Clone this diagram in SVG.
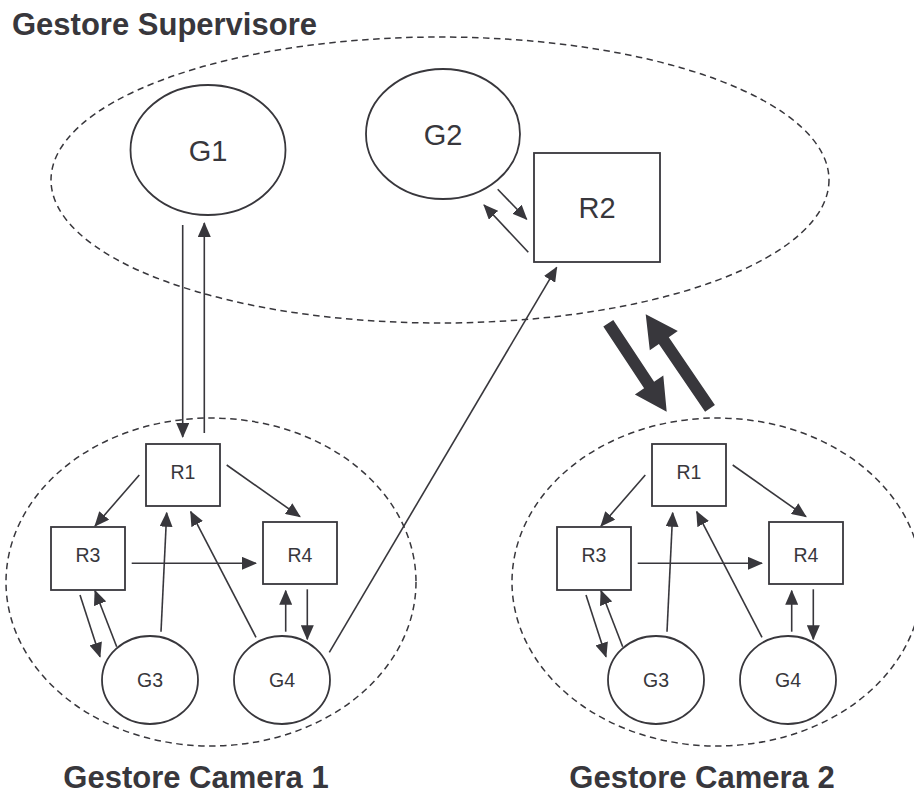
<svg xmlns="http://www.w3.org/2000/svg" width="914" height="794" viewBox="0 0 914 794">
  <style>
    .bg { fill: #ffffff; }
    .node { fill: #ffffff; stroke: #38373c; stroke-width: 1.8; }
    .zone { fill: none; stroke: #38373c; stroke-width: 1.5; stroke-dasharray: 6.5 4.5; }
    .lbl { font-family: "Liberation Sans", Arial, sans-serif; fill: #38373c; text-anchor: middle; }
    .big { font-size: 29px; }
    .small { font-size: 19.5px; }
    .title { font-family: "Liberation Sans", Arial, sans-serif; font-weight: bold; font-size: 31px; fill: #38373c; }
    .link { fill: none; stroke: #38373c; stroke-width: 1.6; marker-end: url(#tip); }
    .heavy { fill: #38373c; stroke: none; }
  </style>
  <defs>
    <marker id="tip" viewBox="0 0 15 13" refX="14" refY="6.5" markerWidth="15" markerHeight="13" markerUnits="userSpaceOnUse" orient="auto">
      <path d="M0,0 L15,6.5 L0,13 z" fill="#38373c"/>
    </marker>
  </defs>

  <rect class="bg" x="0" y="0" width="914" height="794"/>

  <!-- zone outlines and their titles -->
  <g id="zone-supervisore">
    <ellipse class="zone" cx="440" cy="180" rx="389" ry="143"/>
    <text class="title" x="12" y="35">Gestore Supervisore</text>
  </g>
  <g id="zone-camera1">
    <ellipse class="zone" cx="211" cy="582" rx="205" ry="164"/>
    <text class="title" x="196" y="788" text-anchor="middle">Gestore Camera 1</text>
  </g>
  <g id="zone-camera2">
    <ellipse class="zone" cx="717" cy="582" rx="205" ry="164"/>
    <text class="title" x="702" y="788" text-anchor="middle">Gestore Camera 2</text>
  </g>

  <!-- connectors -->
  <g id="connectors">
    <!-- supervisor level -->
    <line class="link" x1="182.7" y1="225" x2="182.7" y2="437"/>
    <line class="link" x1="204.3" y1="433" x2="204.3" y2="223"/>
    <line class="link" x1="497.7" y1="189.3" x2="526.7" y2="219.3"/>
    <line class="link" x1="528.3" y1="252.3" x2="484" y2="205"/>
    <line class="link" x1="329.3" y1="652.3" x2="556.7" y2="267.3"/>
    <!-- exchange between camera 2 and the supervisor -->
    <polygon class="heavy" points="603.3,326.6 644.1,388.3 634.9,394.4 666.7,411.7 663.3,375.6 654.1,381.7 613.3,320.0"/>
    <polygon class="heavy" points="714.9,404.9 668.8,337.3 677.8,331.1 645.7,314.3 649.8,350.3 658.9,344.1 705.1,411.7"/>
    <!-- camera 1 -->
    <g id="links-camera1">
      <line class="link" x1="139.3" y1="475" x2="95" y2="526"/>
      <line class="link" x1="226.7" y1="465" x2="300" y2="516.7"/>
      <line class="link" x1="131.7" y1="563.3" x2="256" y2="563.3"/>
      <line class="link" x1="80" y1="595" x2="100" y2="656.7"/>
      <line class="link" x1="116.7" y1="646.7" x2="95" y2="590.7"/>
      <line class="link" x1="161" y1="631.7" x2="166.7" y2="512.7"/>
      <line class="link" x1="256" y1="637.3" x2="190.7" y2="511.7"/>
      <line class="link" x1="285.7" y1="631.7" x2="285.7" y2="590.7"/>
      <line class="link" x1="307.3" y1="589.3" x2="307.3" y2="639.3"/>
    </g>
    <!-- camera 2 repeats the same wiring -->
    <g id="links-camera2" transform="translate(506,0)">
      <line class="link" x1="139.3" y1="475" x2="95" y2="526"/>
      <line class="link" x1="226.7" y1="465" x2="300" y2="516.7"/>
      <line class="link" x1="131.7" y1="563.3" x2="256" y2="563.3"/>
      <line class="link" x1="80" y1="595" x2="100" y2="656.7"/>
      <line class="link" x1="116.7" y1="646.7" x2="95" y2="590.7"/>
      <line class="link" x1="161" y1="631.7" x2="166.7" y2="512.7"/>
      <line class="link" x1="256" y1="637.3" x2="190.7" y2="511.7"/>
      <line class="link" x1="285.7" y1="631.7" x2="285.7" y2="590.7"/>
      <line class="link" x1="307.3" y1="589.3" x2="307.3" y2="639.3"/>
    </g>
  </g>

  <!-- supervisor nodes -->
  <g id="G1">
    <ellipse class="node" cx="208" cy="150" rx="77.5" ry="65"/>
    <text class="lbl big" x="208" y="161">G1</text>
  </g>
  <g id="G2">
    <ellipse class="node" cx="443" cy="134" rx="77" ry="65"/>
    <text class="lbl big" x="443" y="145">G2</text>
  </g>
  <g id="R2">
    <rect class="node" x="534" y="153" width="126" height="109"/>
    <text class="lbl big" x="597" y="218">R2</text>
  </g>

  <!-- camera 1 nodes -->
  <g id="c1-R1">
    <rect class="node" x="146" y="444" width="74" height="62"/>
    <text class="lbl small" x="183" y="479">R1</text>
  </g>
  <g id="c1-R3">
    <rect class="node" x="51" y="527" width="74" height="63"/>
    <text class="lbl small" x="88" y="562">R3</text>
  </g>
  <g id="c1-R4">
    <rect class="node" x="263" y="522" width="74" height="62"/>
    <text class="lbl small" x="300" y="562">R4</text>
  </g>
  <g id="c1-G3">
    <ellipse class="node" cx="150" cy="680" rx="48" ry="44"/>
    <text class="lbl small" x="150" y="687">G3</text>
  </g>
  <g id="c1-G4">
    <ellipse class="node" cx="282" cy="680" rx="48" ry="44"/>
    <text class="lbl small" x="282" y="687">G4</text>
  </g>

  <!-- camera 2 nodes -->
  <g id="c2-R1">
    <rect class="node" x="652" y="444" width="74" height="62"/>
    <text class="lbl small" x="689" y="479">R1</text>
  </g>
  <g id="c2-R3">
    <rect class="node" x="557" y="527" width="74" height="63"/>
    <text class="lbl small" x="594" y="562">R3</text>
  </g>
  <g id="c2-R4">
    <rect class="node" x="769" y="522" width="74" height="62"/>
    <text class="lbl small" x="806" y="562">R4</text>
  </g>
  <g id="c2-G3">
    <ellipse class="node" cx="656" cy="680" rx="48" ry="44"/>
    <text class="lbl small" x="656" y="687">G3</text>
  </g>
  <g id="c2-G4">
    <ellipse class="node" cx="788" cy="680" rx="48" ry="44"/>
    <text class="lbl small" x="788" y="687">G4</text>
  </g>
</svg>
